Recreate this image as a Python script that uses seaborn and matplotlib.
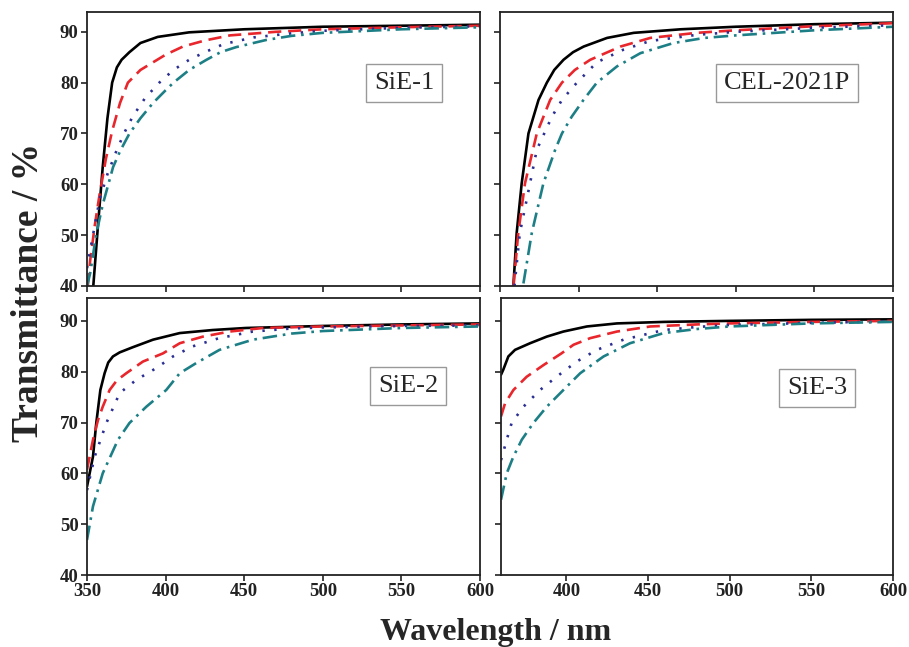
import numpy as np
import pandas as pd
import matplotlib
matplotlib.use("Agg")
import matplotlib.pyplot as plt
import seaborn as sns

# ---------------- data ----------------
panel_names = ["SiE-1", "CEL-2021P", "SiE-2", "SiE-3"]
series_names = ["s1", "s2", "s3", "s4"]

# SiE-1
p1_s1_wl = [354, 357, 360, 363, 366, 369, 372, 377, 384, 395, 415, 450, 500, 550, 600]
p1_s1_T = [40, 52, 63.4, 73, 80, 83, 84.5, 86, 87.8, 89, 89.9, 90.5, 91, 91.2, 91.4]
p1_s2_wl = [350.5, 352, 355, 358, 362, 366, 371, 376, 384, 392, 400, 411, 425, 441, 470, 500, 550, 600]
p1_s2_T = [40, 45, 52, 58, 65, 70.5, 76, 80, 82.5, 84, 85.5, 87.1, 88.3, 89.3, 90, 90.5, 90.9, 91.2]
p1_s3_wl = [350, 352, 355, 358, 363, 369, 374, 379, 387, 396, 405, 415, 425, 437, 456, 480, 500, 550, 600]
p1_s3_T = [43.5, 47, 52, 57, 62, 66.8, 70.3, 73.3, 77, 80, 82.5, 84.5, 86, 87.6, 88.9, 89.7, 90.2, 90.8, 91.1]
p1_s4_wl = [350, 352, 356, 360, 366.6, 371, 377, 384, 392, 400, 405, 415, 426, 435, 445, 464, 480, 500, 550, 600]
p1_s4_T = [40, 42.5, 50.4, 56, 63.4, 66.5, 70, 73, 76, 78.5, 80, 82.5, 84.5, 86, 87, 88.4, 89.2, 89.8, 90.5, 90.9]

# CEL-2021P
p2_s1_wl = [358.5, 360.6, 363.8, 368.1, 374.5, 379.8, 384.5, 390.4, 396.5, 403.2, 418.1, 435.1, 465, 500, 550, 600]
p2_s1_T = [40, 50.4, 60.2, 70, 76.6, 80, 82.5, 84.5, 86, 87.1, 88.8, 89.8, 90.5, 91, 91.5, 91.8]
p2_s2_wl = [358.6, 361.6, 365.9, 373.4, 381.9, 389.4, 397.6, 407.4, 426.6, 445.6, 475, 500, 550, 600]
p2_s2_T = [40, 50.4, 60.2, 70, 76.6, 80, 82.5, 84.5, 87.1, 88.8, 89.8, 90.3, 91.1, 91.7]
p2_s3_wl = [359.2, 362.6, 369.1, 373.4, 383, 389.4, 398.9, 411.6, 428.6, 445.6, 475, 500, 550, 600]
p2_s3_T = [40, 50.4, 60.2, 66.8, 73.3, 76.6, 80, 84, 86.5, 88.2, 89.4, 90, 90.8, 91.3]
p2_s4_wl = [364.9, 370.2, 377.6, 385.1, 389.4, 395.6, 403.1, 411.6, 424.4, 439.3, 460.4, 480, 500, 550, 600]
p2_s4_T = [40.5, 50.4, 60.2, 66.8, 70, 73.3, 76.6, 80, 83.2, 85.8, 87.8, 88.8, 89.3, 90.3, 91]

# SiE-2
p3_s1_wl = [350, 353.8, 355.9, 358.5, 361.2, 363.5, 366.5, 370.8, 379, 392, 409, 430, 451, 500, 550, 600]
p3_s1_T = [57.4, 63.3, 69.9, 76.4, 79.7, 81.8, 83, 83.8, 84.8, 86.3, 87.6, 88.2, 88.6, 89, 89.3, 89.5]
p3_s2_wl = [350, 353.8, 357, 360, 364.4, 369, 375, 385.6, 398.3, 409, 423.7, 440.7, 462, 500, 550, 600]
p3_s2_T = [60.7, 66.6, 70.5, 73.1, 76.4, 78.3, 79.7, 82, 83.6, 85.6, 86.9, 87.9, 88.6, 88.9, 89.1, 89.3]
p3_s3_wl = [350, 354.9, 362.3, 370.8, 381.4, 394, 404.7, 417.4, 434, 455.5, 480, 500, 550, 600]
p3_s3_T = [56.7, 63.3, 69.9, 75.8, 78.4, 80.7, 83, 85, 86.6, 87.9, 88.5, 88.7, 89, 89.1]
p3_s4_wl = [350, 353.8, 360, 369.7, 377, 387.7, 400.4, 409, 419.5, 434.3, 455.5, 480, 500, 550, 600]
p3_s4_T = [46.9, 53.5, 60, 66.6, 69.9, 73.1, 76.4, 79.7, 81.7, 84.3, 86.3, 87.5, 88, 88.6, 88.9]

# SiE-3
p4_s1_wl = [360, 361.4, 364.5, 368.6, 377.8, 388, 398.2, 412.6, 431, 460, 500, 550, 600]
p4_s1_T = [79.4, 80.4, 83, 84.3, 85.6, 86.9, 87.9, 88.9, 89.5, 89.8, 90, 90.2, 90.3]
p4_s2_wl = [360, 362.5, 367.6, 375.7, 386, 397, 404.4, 414.6, 431, 451.4, 480, 500, 550, 600]
p4_s2_T = [71.2, 73.8, 76.4, 79, 81.3, 83.6, 85.3, 86.6, 87.9, 88.9, 89.3, 89.5, 89.8, 90]
p4_s3_wl = [360, 363.5, 366.5, 373.7, 383.9, 394, 406.4, 418.7, 435, 459.6, 480, 500, 550, 600]
p4_s3_T = [62.6, 66.6, 69.9, 73.1, 76.4, 79, 82, 84.3, 86.3, 88.2, 88.8, 89.2, 89.6, 89.9]
p4_s4_wl = [360, 363.5, 367.6, 372.7, 379.8, 388, 398.2, 408.5, 422.8, 439, 459.6, 480, 500, 550, 600]
p4_s4_T = [54.8, 60, 63.3, 66.6, 69.9, 73.1, 76.4, 79.7, 83, 85.6, 87.6, 88.4, 88.9, 89.5, 89.8]

x_ticks = [350, 400, 450, 500, 550, 600]
y_ticks = [40, 50, 60, 70, 80, 90]
x_label = "Wavelength / nm"
y_label = "Transmittance / %"

panels = [
    [(p1_s1_wl, p1_s1_T), (p1_s2_wl, p1_s2_T), (p1_s3_wl, p1_s3_T), (p1_s4_wl, p1_s4_T)],
    [(p2_s1_wl, p2_s1_T), (p2_s2_wl, p2_s2_T), (p2_s3_wl, p2_s3_T), (p2_s4_wl, p2_s4_T)],
    [(p3_s1_wl, p3_s1_T), (p3_s2_wl, p3_s2_T), (p3_s3_wl, p3_s3_T), (p3_s4_wl, p3_s4_T)],
    [(p4_s1_wl, p4_s1_T), (p4_s2_wl, p4_s2_T), (p4_s3_wl, p4_s3_T), (p4_s4_wl, p4_s4_T)],
]

# ---------------- style ----------------
sns.set_style("ticks")
plt.rcParams["font.family"] = ["Liberation Serif", "DejaVu Serif"]
plt.rcParams["axes.linewidth"] = 1.3
plt.rcParams["xtick.major.width"] = 1.2
plt.rcParams["ytick.major.width"] = 1.2
plt.rcParams["xtick.major.size"] = 4
plt.rcParams["ytick.major.size"] = 4

palette = {"s1": "#000000", "s2": "#e8262c", "s3": "#2b2f93", "s4": "#1d7f86"}
dashes = {"s1": "", "s2": (5, 2.6), "s3": (0.9, 3.6), "s4": (5.5, 2.2, 1, 2.2)}

fig = plt.figure(figsize=(9.09, 6.47), dpi=100)
W, H = 909, 647
boxes = [
    (87, 12, 393, 274), (500, 12, 393, 274),
    (87, 298, 393, 277), (501, 298, 392, 277),
]
xlims = [(350, 600), (350, 600), (350, 600), (360, 600)]
ylims = [(40, 93.9), (40, 93.9), (40, 94.5), (40, 94.5)]
label_pos = [(0.807, 0.741), (0.730, 0.741), (0.817, 0.682), (0.806, 0.675)]

for i, (bx, by, bw, bh) in enumerate(boxes):
    ax = fig.add_axes([bx / W, 1 - (by + bh) / H, bw / W, bh / H])
    rows = []
    for name, (wl, T) in zip(series_names, panels[i]):
        for a, b in zip(wl, T):
            rows.append({"wl": a, "T": b, "series": name})
    df = pd.DataFrame(rows)
    sns.lineplot(data=df, x="wl", y="T", hue="series", style="series",
                 palette=palette, dashes=dashes, linewidth=1.9,
                 legend=False, ax=ax, sort=False, estimator=None)
    ax.set_xlim(*xlims[i])
    ax.set_ylim(*ylims[i])
    ax.set_xticks([t for t in x_ticks if t >= xlims[i][0]])
    ax.set_yticks(y_ticks)
    ax.set_xlabel("")
    ax.set_ylabel("")
    for s in ax.spines.values():
        s.set_visible(True)
        s.set_color("#222222")
    ax.tick_params(direction="out", colors="#222222", labelsize=13.5, pad=2)
    for lab in ax.get_xticklabels() + ax.get_yticklabels():
        lab.set_fontweight("bold")
    if i < 2:
        ax.tick_params(labelbottom=False)
    if i % 2 == 1:
        ax.tick_params(labelleft=False)
    ax.text(label_pos[i][0], label_pos[i][1], panel_names[i],
            transform=ax.transAxes, ha="center", va="center", fontsize=19,
            bbox=dict(boxstyle="square,pad=0.3", fc="white", ec="#999999", lw=1.0))

fig.text(0.031, 0.548, y_label, rotation=90, ha="center", va="center",
         fontsize=27, fontweight="bold")
fig.text(0.545, 0.022, x_label, ha="center", va="center",
         fontsize=23, fontweight="bold")

fig.savefig("out.png", dpi=100)
